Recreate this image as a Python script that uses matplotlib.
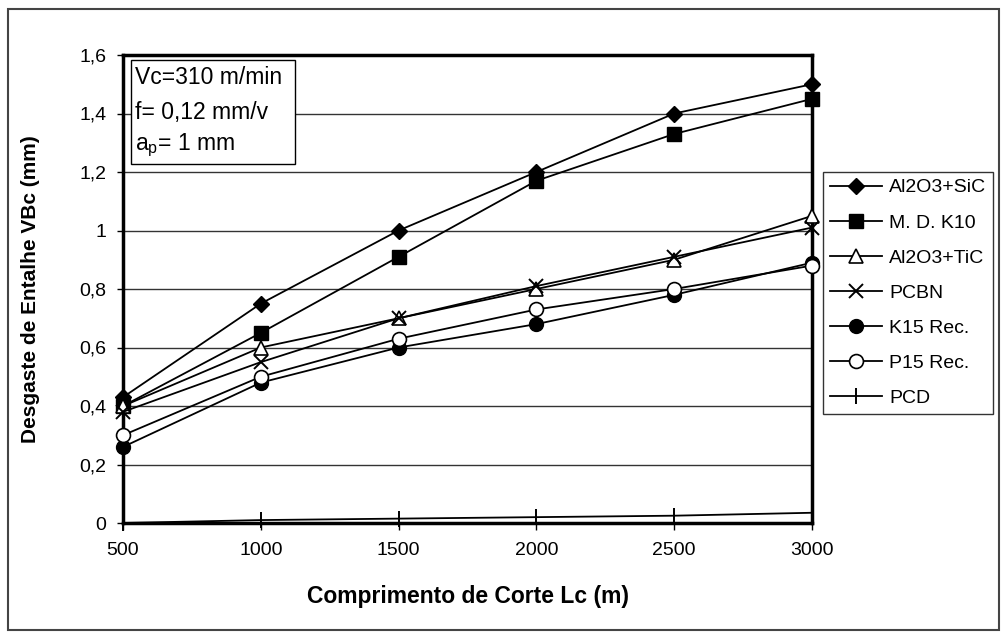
import matplotlib
matplotlib.use("Agg")
import matplotlib.pyplot as plt
from matplotlib.patches import Rectangle

plt.rcParams['font.family'] = ['Liberation Sans', 'DejaVu Sans']

comprimento = [500, 1000, 1500, 2000, 2500, 3000]
al2o3_sic = [0.43, 0.75, 1.00, 1.20, 1.40, 1.50]
md_k10 = [0.40, 0.65, 0.91, 1.17, 1.33, 1.45]
al2o3_tic = [0.40, 0.60, 0.70, 0.80, 0.90, 1.05]
pcbn = [0.38, 0.55, 0.70, 0.81, 0.91, 1.01]
k15_rec = [0.26, 0.48, 0.60, 0.68, 0.78, 0.89]
p15_rec = [0.30, 0.50, 0.63, 0.73, 0.80, 0.88]
pcd = [0.0, 0.01, 0.015, 0.02, 0.025, 0.035]

series_names = ["Al2O3+SiC", "M. D. K10", "Al2O3+TiC", "PCBN", "K15 Rec.", "P15 Rec.", "PCD"]
y_ticks = [0, 0.2, 0.4, 0.6, 0.8, 1.0, 1.2, 1.4, 1.6]
y_ticklabels = ["0", "0,2", "0,4", "0,6", "0,8", "1", "1,2", "1,4", "1,6"]
info_lines = ["Vc=310 m/min", "f= 0,12 mm/v", "a$_\\mathregular{p}$= 1 mm"]

W, H = 1001, 637


def fx(px):
    return px / W


def fy(py):
    return 1 - py / H


fig = plt.figure(figsize=(W / 100, H / 100), dpi=100)
fig.patches.append(Rectangle((fx(8), fy(630)), fx(991), (630 - 9) / H, transform=fig.transFigure,
                             fill=False, edgecolor='#444444', linewidth=1.5))

ax = fig.add_axes([fx(123), fy(523), fx(689), 468 / H])

styles = [
    dict(marker='D', markersize=8, markerfacecolor='black', markeredgecolor='black'),
    dict(marker='s', markersize=10, markerfacecolor='black', markeredgecolor='black'),
    dict(marker='^', markersize=10.5, markerfacecolor='white', markeredgecolor='black', markeredgewidth=1.2),
    dict(marker='x', markersize=10, markeredgewidth=1.4, markeredgecolor='black'),
    dict(marker='o', markersize=10, markerfacecolor='black', markeredgecolor='black'),
    dict(marker='o', markersize=10, markerfacecolor='white', markeredgecolor='black', markeredgewidth=1.2),
    dict(marker='|', markersize=12, markeredgewidth=1.4, markeredgecolor='black'),
]
data = [al2o3_sic, md_k10, al2o3_tic, pcbn, k15_rec, p15_rec, pcd]

for name, vals, st in zip(series_names, data, styles):
    ax.plot(comprimento, vals, color='black', linewidth=1.3, label=name, clip_on=False, zorder=3, **st)

ax.set_xlim(500, 3000)
ax.set_ylim(0, 1.6)
ax.set_xticks(comprimento)
ax.set_xticklabels([str(v) for v in comprimento], fontsize=14)
ax.set_yticks(y_ticks)
ax.set_yticklabels(y_ticklabels, fontsize=14)
ax.yaxis.grid(True, color='#333333', linewidth=1.0)
ax.set_axisbelow(True)
for s in ax.spines.values():
    s.set_linewidth(2.5)
    s.set_color('black')
ax.tick_params(axis='x', direction='out', length=5, width=1, colors='black', pad=9)
ax.tick_params(axis='y', direction='out', length=4, width=1, colors='black', pad=8)

ax.set_xlabel("Comprimento de Corte Lc (m)", fontsize=16.5, fontweight='bold')
ax.set_ylabel("Desgaste de Entalhe VBc (mm)", fontsize=15, fontweight='bold')
ax.xaxis.label.set_va('center')
ax.yaxis.label.set_va('center')
ax.xaxis.set_label_coords(0.5, (523 - 597) / 468)
ax.yaxis.set_label_coords((31 - 123) / 689, 0.5)

fig.patches.append(Rectangle((fx(131), fy(164)), fx(295 - 131), (164 - 60) / H, transform=fig.transFigure,
                             facecolor='white', edgecolor='black', linewidth=1.0, zorder=5))
for line, yc in zip(info_lines, [78, 112, 145]):
    fig.text(fx(135), fy(yc), line, fontsize=16.5, ha='left', va='center', zorder=6)

leg = fig.legend(loc='upper left', bbox_to_anchor=(fx(823), fy(172)), fontsize=14,
                 frameon=True, fancybox=False, edgecolor='black', borderpad=0.35,
                 labelspacing=0.9, handlelength=2.7, handletextpad=0.35, borderaxespad=0)
leg.get_frame().set_linewidth(1.0)

fig.savefig("out.png", dpi=100, facecolor='white')
